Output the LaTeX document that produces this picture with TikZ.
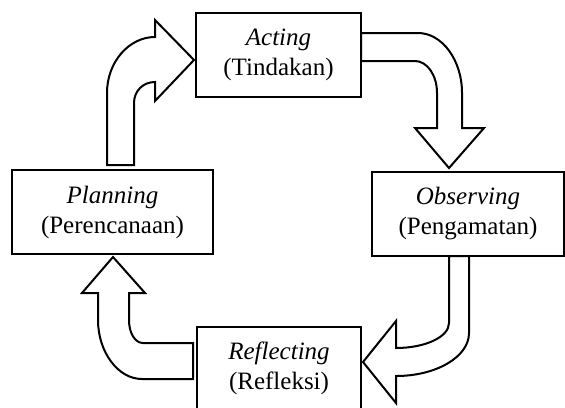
\documentclass[tikz,border=0pt]{standalone}
\usepackage{fontspec}
\setmainfont{Liberation Serif}

\begin{document}
\begin{tikzpicture}[x=0.5pt, y=-0.5pt,
  stagebox/.style={draw, line width=0.6pt, inner sep=0pt, align=center, font=\fontsize{12.5}{15}\selectfont},
  blockarrow/.style={draw, fill=white, line width=1pt, line join=miter}]
% Set the page size (pixel grid of the reference)
\useasboundingbox (0,0) rectangle (565,407);

% Draw the four stages of the cycle
\node[stagebox, minimum width=82.5pt, minimum height=42pt] (acting) at (278.5,55) {\textit{Acting}\\(Tindakan)};
\node[stagebox, minimum width=96pt, minimum height=42pt] (observing) at (468,214) {\textit{Observing}\\(Pengamatan)};
\node[stagebox, minimum width=82pt, minimum height=41pt] (reflecting) at (279,368) {\textit{Reflecting}\\(Refleksi)};
\node[stagebox, minimum width=100.5pt, minimum height=42pt] (planning) at (112.5,212) {\textit{Planning}\\(Perencanaan)};

% Block arrows between the stages
\draw[blockarrow] (107,165) -- (107,93) .. controls (107,62) and (129,37) .. (155,37) -- (155,20) -- (194,60)
  -- (155,101) -- (155,82) .. controls (143,82) and (134,91) .. (134,103) -- (134,165) -- cycle;
\draw[blockarrow] (361,33) -- (418,33) .. controls (442,33) and (462,60) .. (462,93) -- (462,128) -- (484,128)
  -- (449,168) -- (415,128) -- (437,128) -- (437,93) .. controls (437,75) and (427,61) .. (415,61) -- (361,61) -- cycle;
\draw[blockarrow] (449,256) -- (449,323) .. controls (449,337) and (425,348) .. (396,348) -- (396,321) -- (363,362)
  -- (396,403) -- (396,376) .. controls (436,376) and (469,357) .. (469,333) -- (469,256) -- cycle;
\draw[blockarrow] (193,343) -- (143,343) .. controls (135,343) and (129,333) .. (129,320) -- (129,293) -- (145,293)
  -- (113,257) -- (82,293) -- (98,293) -- (98,320) .. controls (98,352) and (118,379) .. (142,379) -- (193,379) -- cycle;
\end{tikzpicture}
\end{document}
